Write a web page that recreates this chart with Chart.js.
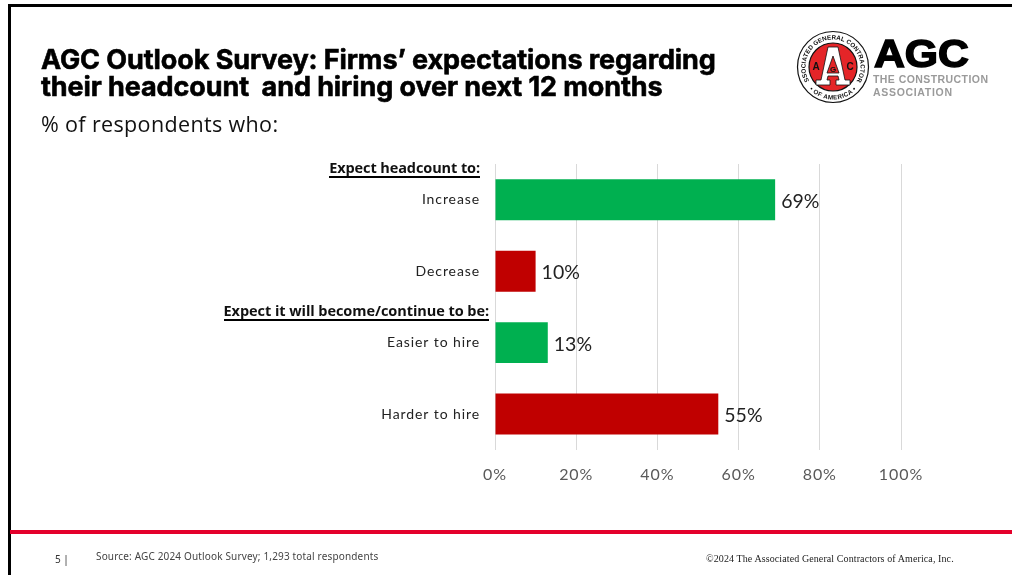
<!DOCTYPE html>
<html><head><meta charset="utf-8">
<style>
html,body{margin:0;padding:0;background:#fff;width:1012px;height:575px;overflow:hidden}
#wrap{position:relative;width:1012px;height:575px}
#wrap canvas{position:absolute;left:0;top:0}
.t{position:absolute;white-space:nowrap}
.bar{position:absolute;background:#000}
</style>
<script src="https://cdn.jsdelivr.net/npm/chart.js@4"></script>
</head><body><div id="wrap">
<canvas id="c" width="1012" height="575"></canvas>
<div class="bar" style="left:8px;top:4px;width:1004px;height:2.5px"></div>
<div class="bar" style="left:8px;top:4px;width:2.5px;height:571px"></div>
<div class="bar" style="left:10px;top:530px;width:1002px;height:4px;background:#e4002b"></div>
<div class="t" style="left:41px;top:46px;font:700 27px/27px Inter;letter-spacing:-.09px;color:#000;-webkit-text-stroke:.6px #000">AGC Outlook Survey: Firms’ expectations regarding<br>their headcount &nbsp;and hiring over next 12 months</div>
<div class="t" style="left:41px;top:111px;font:400 21.5px/26px 'Open Sans';letter-spacing:.36px;color:#111">% of respondents who:</div>
<div class="t" style="right:532px;top:159px;font:700 14.5px/17px 'Open Sans';letter-spacing:-.1px;color:#111;border-bottom:2px solid #000">Expect headcount to:</div>
<div class="t" style="right:523px;top:302px;font:700 14.5px/17px 'Open Sans';letter-spacing:-.06px;color:#111;border-bottom:2px solid #000">Expect it will become/continue to be:</div>
<div class="t" style="left:55px;top:552px;font:400 10px/14px 'Noto Sans';color:#333">5 |</div>
<div class="t" style="left:96px;top:549px;font:400 10px/14px 'Noto Sans';letter-spacing:.16px;color:#444">Source: AGC 2024 Outlook Survey; 1,293 total respondents</div>
<div class="t" style="left:706px;top:552px;font:400 10px/14px 'Liberation Serif';letter-spacing:.1px;color:#222">©2024 The Associated General Contractors of America, Inc.</div>
<svg class="t" style="left:796px;top:30px" width="216" height="76" viewBox="0 0 216 76">
<circle cx="37" cy="37" r="35.5" fill="#fff" stroke="#111" stroke-width="1.2"/>
<circle cx="37" cy="37" r="24" fill="#e42528" stroke="#111" stroke-width="1.2"/>
<defs><path id="top" d="M14.5 52.8 A27.5 27.5 0 1 1 59.5 52.8"/><path id="bot" d="M37 37 m-32.5 0 a32.5 32.5 0 0 0 65 0"/></defs>
<text font-family="Liberation Sans" font-weight="700" font-size="6.3" fill="#111"><textPath href="#top" startOffset="50%" text-anchor="middle">ASSOCIATED GENERAL CONTRACTORS</textPath></text>
<text font-family="Liberation Sans" font-weight="700" font-size="6.3" letter-spacing=".4" fill="#111"><textPath href="#bot" startOffset="50%" text-anchor="middle">• OF AMERICA •</textPath></text>
<path fill-rule="evenodd" d="M32 17 H42 L49 50 H54 V55 H40 V50 H43 L42 46 H32 L31 50 H34 V55 H20 V50 H25 Z M37 26 L31 43 H43 Z" fill="#fff" stroke="#111" stroke-width=".8"/>
<text x="20" y="40" font-family="Liberation Sans" font-weight="700" font-size="10" fill="#111" text-anchor="middle">A</text>
<text x="54" y="40" font-family="Liberation Sans" font-weight="700" font-size="10" fill="#111" text-anchor="middle">C</text>
<text x="37" y="42" font-family="Liberation Sans" font-weight="700" font-size="8" fill="#111" text-anchor="middle">G</text>
<text x="78" y="37" font-family="Liberation Sans" font-weight="700" font-size="39" fill="#000" stroke="#000" stroke-width="1.5" textLength="95" lengthAdjust="spacingAndGlyphs">AGC</text>
<text x="77" y="53" font-family="Liberation Sans" font-weight="700" font-size="10.5" fill="#9a9a9a" textLength="115">THE CONSTRUCTION</text>
<text x="77" y="66" font-family="Liberation Sans" font-weight="700" font-size="10.5" fill="#9a9a9a" textLength="79">ASSOCIATION</text>
</svg>
</div>
<script>
const categories = ["Increase", "Decrease", "Easier to hire", "Harder to hire"];
const percentValues = [69, 10, 13, 55];
const barColors = ["#00B050", "#C00000", "#00B050", "#C00000"];
const tickValues = [0, 20, 40, 60, 80, 100];

const valueLabels = {
  id: "valueLabels",
  afterDatasetsDraw(chart) {
    const ctx = chart.ctx;
    ctx.save();
    ctx.letterSpacing = "0px";
    ctx.font = "400 19.5px Lato";
    ctx.fillStyle = "#222";
    ctx.textAlign = "left";
    ctx.textBaseline = "middle";
    chart.getDatasetMeta(0).data.forEach((bar, i) => {
      ctx.fillText(percentValues[i] + "%", bar.x + 6, bar.y + 2);
    });
    ctx.restore();
  }
};
const spacing = {
  id: "spacing",
  beforeDraw(chart) { chart.ctx.letterSpacing = "0.9px"; }
};

new Chart(document.getElementById("c"), {
  type: "bar",
  plugins: [spacing, valueLabels],
  data: {
    labels: categories,
    datasets: [{ data: percentValues, backgroundColor: barColors, borderWidth: 0, barPercentage: 0.573, categoryPercentage: 1 }]
  },
  options: {
    indexAxis: "y",
    responsive: false,
    animation: false,
    layout: { padding: { left: 0, top: 164, right: 111, bottom: 76 } },
    plugins: { legend: { display: false }, tooltip: { enabled: false } },
    scales: {
      x: {
        min: 0, max: 100,
        afterBuildTicks(s) { s.ticks = tickValues.map(v => ({ value: v })); },
        ticks: { callback: v => v + "%", color: "#595959", font: { family: "Lato", size: 16 }, padding: 15, maxRotation: 0 },
        grid: { color: "#d9d9d9", lineWidth: 1, drawTicks: false },
        border: { display: false }
      },
      y: {
        afterFit(s) { s.width = 495; },
        ticks: { color: "#222", font: { family: "Lato", size: 14 }, padding: 7 },
        grid: { display: false },
        border: { color: "#d9d9d9" }
      }
    }
  }
});
</script></body></html>
